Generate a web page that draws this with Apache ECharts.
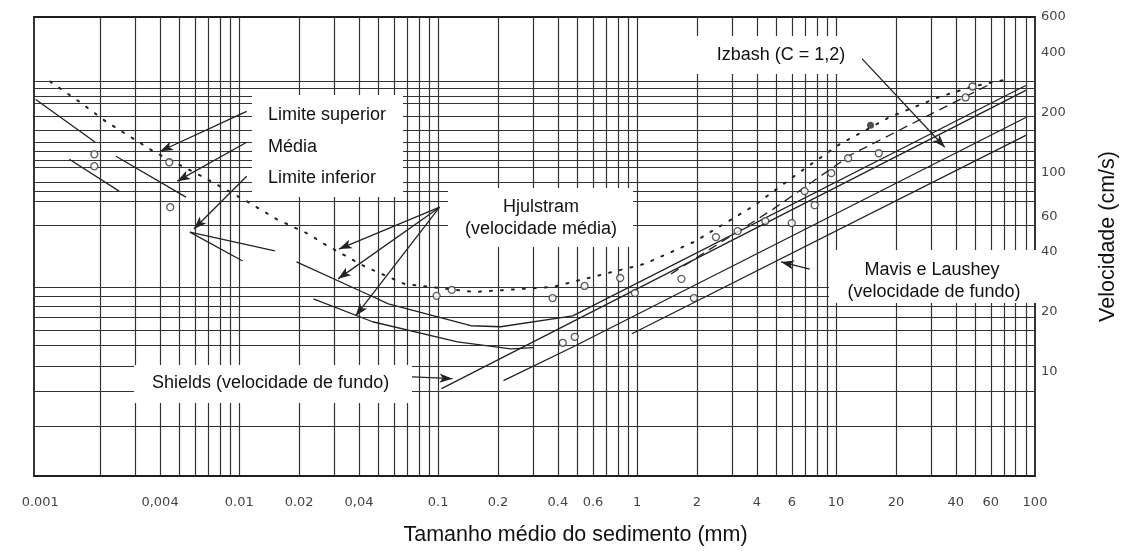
<!DOCTYPE html>
<html><head><meta charset="utf-8">
<script src="https://cdn.jsdelivr.net/npm/echarts@6/dist/echarts.min.js"></script>
<style>html,body{margin:0;padding:0;background:#fff}#c{width:1127px;height:551px}</style>
</head><body><div id="c"></div>
<script>
// ---- axis ticks / labels ----
const xTickValues = [0.001,0.004,0.01,0.02,0.04,0.1,0.2,0.4,0.6,1,2,4,6,10,20,40,60,100];
const xTickLabels = ['0.001','0,004','0.01','0.02','0,04','0.1','0.2','0.4','0.6','1','2','4','6','10','20','40','60','100'];
const yTickValues = [10,20,40,60,100,200,400,600];
// grid lines of the (hand drawn) log paper
const xGridValues = [0.002,0.003,0.004,0.005,0.006,0.007,0.008,0.009,0.01,0.02,0.03,0.04,0.05,0.06,0.07,0.08,0.09,0.1,0.2,0.3,0.4,0.5,0.6,0.7,0.8,0.9,1,2,3,4,5,6,7,8,9,10,20,30,40,50,60,70,80,90];
const yGridValues = [5.3,8,10.6,13.5,16.2,18.8,21.4,24,26.6,54.3,71.6,80.4,89,106,115,127,141,162,190,221,240,263,285];

// ---- curves [diameter mm, velocity cm/s] ----
const hjulstromUpperDotted = [[0.00112,285],[0.00157,226],[0.00213,180],[0.00308,143],[0.00371,127],[0.00648,95.5],[0.0109,71.6],[0.0154,58.2],[0.0223,49],[0.0267,43.7],[0.0432,33.5],[0.0681,27.5],[0.152,25.1],[0.376,26.6],[1.09,34.7],[1.93,44.7],[3.84,67.6],[6.35,97.7],[10.4,138],[18.4,188],[32.5,237],[48.5,269],[72.4,292]];
const segmentA = [[0.000949,231.7],[0.00189,141.3]];
const segmentB = [[0.0014,116.1],[0.00249,80.4]];
const segmentC = [[0.0024,120.2],[0.0054,75]];
const segmentD = [[0.00565,50.1],[0.0151,40.3]];
const segmentE = [[0.00565,50.1],[0.0104,35.9]];
const hjulstromMean = [[0.0194,35.5],[0.0417,25.1],[0.0562,21.9],[0.146,17],[0.206,16.8],[0.475,19.05],[89.9,272]];
const hjulstromLower = [[0.0236,23.2],[0.0468,17.8],[0.125,14.1],[0.232,13],[0.3,13.2]];
const shieldsLine = [[0.104,8.22],[89.9,257]];
const middleLine = [[0.213,9.02],[0.475,13.3],[89.9,188]];
const mavisLausheyLine = [[0.942,15.5],[89.9,153]];
const izbashDashed = [[1.48,30.9],[4.83,65.3],[12,123],[57.6,272]];

// ---- observed points ----
const openPoints = [[0.00187,123],[0.00187,107.2],[0.00445,112.2],[0.0045,66.8],[0.0982,24],[0.117,25.7],[0.376,23.4],[0.423,13.96],[0.486,14.96],[0.544,26.9],[0.822,29.5],[0.975,24.8],[1.67,29.2],[1.93,23.4],[2.49,47.3],[3.2,50.7],[4.41,56.9],[5.99,55.6],[6.95,80.4],[7.8,68.4],[9.46,98.9],[11.5,117.5],[16.4,124.5],[44.8,237],[48.5,269]];
const filledPoints = [[14.9,171.8]];

// ---- annotation leaders [from, to] ----
const leaderSuperior = [[0.0109,201.8],[0.00401,127.4]];
const leaderMedia = [[0.0109,141.3],[0.00488,90.2]];
const leaderInferior = [[0.0109,95.5],[0.00592,51.9]];
const leaderHjul1 = [[0.1017,66.8],[0.0317,41.2]];
const leaderHjul2 = [[0.1017,66.8],[0.0314,29.2]];
const leaderHjul3 = [[0.1017,66.8],[0.0385,19.05]];
const leaderIzbash = [[13.2,380],[35.2,133.4]];
const leaderMavis = [[7.37,32.7],[5.29,35.5]];
const leaderShields = [[0.0697,9.44],[0.118,9.23]];

const FONT = "'Liberation Sans', Arial, sans-serif";
const TICKFONT = "'DejaVu Sans', sans-serif";
const INK = '#222';

function lineSeries(name, data, style) {
  return {
    name, type: 'line', data, showSymbol: false, symbol: 'none',
    silent: true, z: 3,
    lineStyle: Object.assign({ color: INK, width: 1.3 }, style || {})
  };
}
function leader(pair, curveness) {
  return [
    { coord: pair[0], lineStyle: { curveness } },
    { coord: pair[1] }
  ];
}
function labelFor(v) {
  for (let i = 0; i < xTickValues.length; i++) {
    if (Math.abs(Math.log10(v) - Math.log10(xTickValues[i])) < 1e-6) return xTickLabels[i];
  }
  return '';
}
function box(x, y, w, h) {
  return { type: 'rect', z: 100, shape: { x, y, width: w, height: h }, style: { fill: '#fff' } };
}
function txt(text, x, y, align) {
  return { type: 'text', z: 101, x, y, style: { text, fontSize: 18, fontFamily: FONT, fill: '#111', align: align || 'left', verticalAlign: 'middle' } };
}

const chart = echarts.init(document.getElementById('c'), null, { renderer: 'canvas' });
chart.setOption({
  animation: false,
  backgroundColor: '#fff',
  textStyle: { fontFamily: FONT },
  grid: { left: 34, right: 87, top: 17, bottom: 73, show: true, borderColor: '#1e1e1e', borderWidth: 1.8, backgroundColor: 'transparent' },
  xAxis: {
    type: 'log', logBase: 10, min: 0.00093, max: 100,
    name: 'Tamanho médio do sedimento (mm)', nameLocation: 'middle', nameGap: 48,
    nameTextStyle: { fontSize: 21.5, color: '#111', fontFamily: FONT, padding: [0, 0, 0, 82] },
    axisLine: { show: false },
    axisTick: { show: false, customValues: xGridValues },
    splitLine: { show: true, lineStyle: { color: '#333', width: 1.2 } },
    minorSplitLine: { show: false },
    axisLabel: { customValues: xTickValues, formatter: labelFor, margin: 20, fontSize: 13, color: '#444', fontFamily: TICKFONT }
  },
  yAxis: {
    type: 'log', logBase: 10, min: 3, max: 600, position: 'right',
    name: 'Velocidade (cm/s)', nameLocation: 'middle', nameGap: 62, nameRotate: 90,
    nameTextStyle: { fontSize: 21.5, color: '#111', fontFamily: FONT, padding: [0, 0, 0, 20] },
    axisLine: { show: false },
    axisTick: { show: false, customValues: yGridValues },
    splitLine: { show: true, lineStyle: { color: '#333', width: 1.2 } },
    axisLabel: { customValues: yTickValues, margin: 6, fontSize: 13, color: '#444', fontFamily: TICKFONT }
  },
  series: [
    lineSeries('Hjulstrom limite superior', hjulstromUpperDotted, { type: [2, 9], width: 2, cap: 'round' }),
    lineSeries('segA', segmentA),
    lineSeries('segB', segmentB),
    lineSeries('segC', segmentC),
    lineSeries('segD', segmentD),
    lineSeries('segE', segmentE),
    lineSeries('Hjulstrom média', hjulstromMean),
    lineSeries('Hjulstrom limite inferior', hjulstromLower),
    lineSeries('Shields', shieldsLine),
    lineSeries('Linha intermédia', middleLine),
    lineSeries('Mavis e Laushey', mavisLausheyLine),
    lineSeries('Izbash', izbashDashed, { type: [9, 6] }),
    {
      name: 'Pontos', type: 'scatter', data: openPoints, symbol: 'circle', symbolSize: 7, z: 4, silent: true,
      itemStyle: { color: '#fff', borderColor: '#333', borderWidth: 1.3 },
      markLine: {
        silent: true, symbol: ['none', 'arrow'], symbolSize: [7, 13],
        label: { show: false }, emphasis: { disabled: true },
        lineStyle: { color: INK, width: 1.3, type: 'solid' },
        data: [
          leader(leaderSuperior, -0.35), leader(leaderMedia, -0.35), leader(leaderInferior, -0.3),
          leader(leaderHjul1, -0.25), leader(leaderHjul2, -0.25), leader(leaderHjul3, -0.2),
          leader(leaderIzbash, 0.2), leader(leaderMavis, 0), leader(leaderShields, 0)
        ]
      }
    },
    {
      name: 'Pontos cheios', type: 'scatter', data: filledPoints, symbol: 'circle', symbolSize: 7, z: 4, silent: true,
      itemStyle: { color: '#222' }
    }
  ],
  graphic: [
    box(252, 95, 151, 102),
    txt('Limite superior', 268, 115), txt('Média', 268, 147), txt('Limite inferior', 268, 178),
    box(448, 188, 185, 59),
    txt('Hjulstram', 541, 207, 'center'), txt('(velocidade média)', 541, 229, 'center'),
    box(692, 36, 170, 38),
    txt('Izbash (C = 1,2)', 781, 55, 'center'),
    box(829, 250, 208, 53),
    txt('Mavis e Laushey', 932, 270, 'center'), txt('(velocidade de fundo)', 934, 292, 'center'),
    box(134, 365, 278, 38),
    txt('Shields (velocidade de fundo)', 152, 383)
  ]
});
</script></body></html>
